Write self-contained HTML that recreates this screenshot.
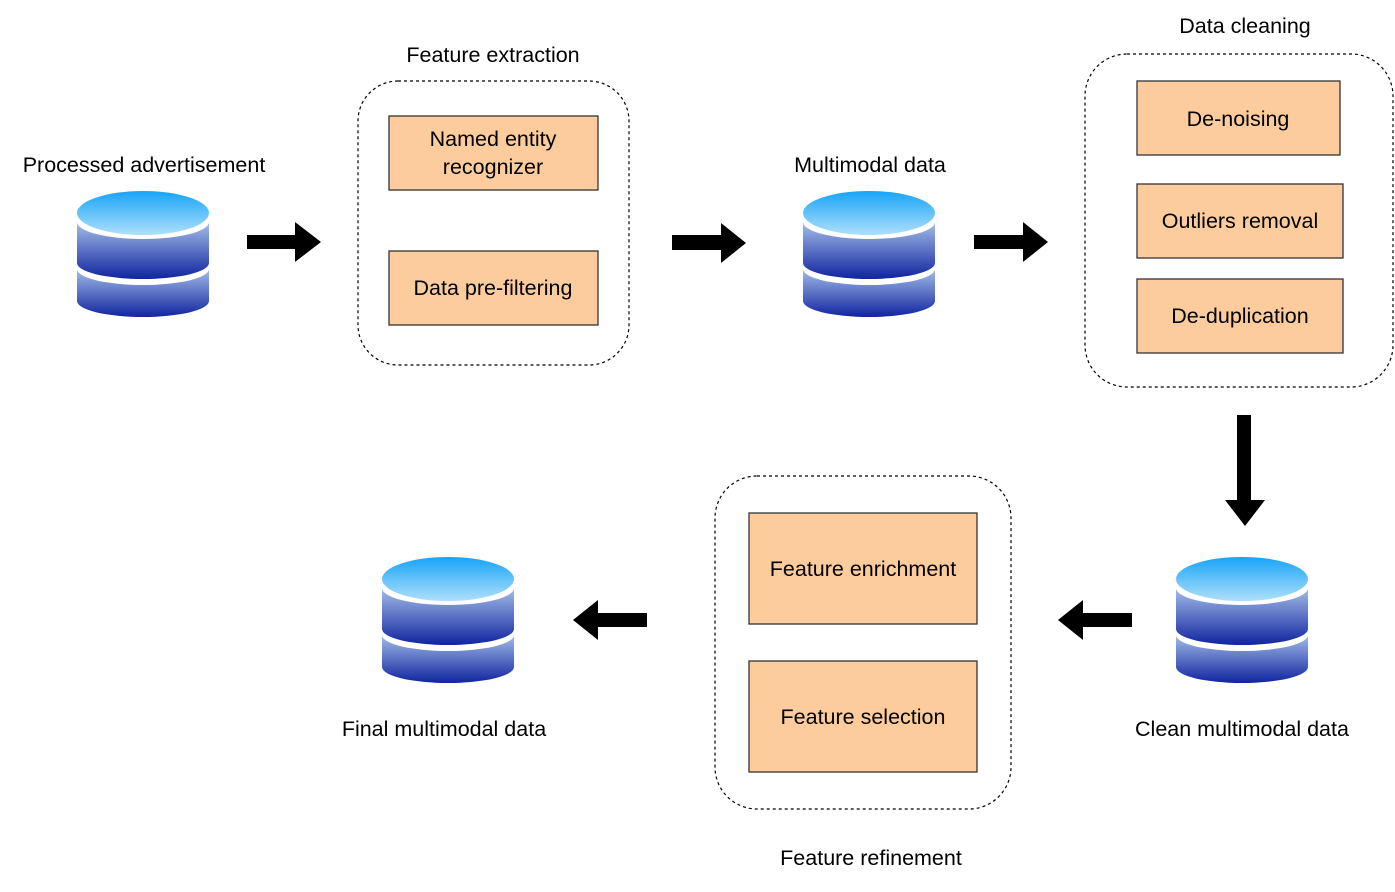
<!DOCTYPE html>
<html><head><meta charset="utf-8"><style>
body{margin:0;background:#fff}
svg text{font-family:"Liberation Sans",Arial,sans-serif;font-size:21.5px;fill:#000}
</style></head><body>
<svg width="1395" height="887" viewBox="0 0 1395 887" xmlns="http://www.w3.org/2000/svg">
<defs>
<linearGradient id="gt" x1="0" y1="0" x2="0" y2="1"><stop offset="0" stop-color="#18a4f8"/><stop offset="1" stop-color="#aee0fa"/></linearGradient>
<linearGradient id="gb" x1="0" y1="0" x2="0" y2="1"><stop offset="0" stop-color="#a4bde8"/><stop offset="1" stop-color="#1024a0"/></linearGradient>
<g id="db">
<ellipse cx="66" cy="22" rx="66" ry="22" fill="url(#gt)"/>
<path d="M0,31 A66,17 0 0 0 132,31 V72 A66,16 0 0 1 0,72Z" fill="url(#gb)"/>
<path d="M0,78 A66,16 0 0 0 132,78 V110 A66,16 0 0 1 0,110Z" fill="url(#gb)"/>
</g>
</defs>
<use href="#db" x="77" y="191"/>
<use href="#db" x="803" y="191"/>
<use href="#db" x="1176" y="557"/>
<use href="#db" x="382" y="557"/>

<g fill="#000">
<polygon points="247,235 295,235 295,222 321,242 295,262 295,249 247,249"/>
<polygon points="672,235 721,235 721,223 746,243 721,263 721,250 672,250"/>
<polygon points="974,235 1023,235 1023,222 1048,242 1023,262 1023,249 974,249"/>
<polygon points="1237,415 1251,415 1251,500 1265,500 1245,526 1225,500 1237,500"/>
<polygon points="1132,613 1083,613 1083,600 1058,620 1083,640 1083,627 1132,627"/>
<polygon points="647,613 598,613 598,600 573,620 598,640 598,627 647,627"/>
</g>

<g fill="none" stroke="#000" stroke-width="1.2" stroke-dasharray="3,3">
<rect x="358" y="81" width="271" height="284" rx="40"/>
<rect x="1085" y="54" width="308" height="333" rx="42"/>
<rect x="715" y="476" width="296" height="333" rx="42"/>
</g>

<g fill="#fdcc9c" stroke="#333" stroke-width="1.3">
<rect x="389" y="116" width="209" height="74"/>
<rect x="389" y="251" width="209" height="74"/>
<rect x="1137" y="81" width="203" height="74"/>
<rect x="1137" y="184" width="206" height="74"/>
<rect x="1137" y="279" width="206" height="74"/>
<rect x="749" y="513" width="228" height="111"/>
<rect x="749" y="661" width="228" height="111"/>
</g>

<g text-anchor="middle">
<text x="493" y="146">Named entity</text>
<text x="493" y="174">recognizer</text>
<text x="493" y="295">Data pre-filtering</text>
<text x="1238" y="126">De-noising</text>
<text x="1240" y="228">Outliers removal</text>
<text x="1240" y="323">De-duplication</text>
<text x="863" y="576">Feature enrichment</text>
<text x="863" y="724">Feature selection</text>
<text x="144" y="172">Processed advertisement</text>
<text x="493" y="62">Feature extraction</text>
<text x="870" y="172">Multimodal data</text>
<text x="1245" y="33">Data cleaning</text>
<text x="1242" y="736">Clean multimodal data</text>
<text x="444" y="736">Final multimodal data</text>
<text x="871" y="865">Feature refinement</text>
</g>
</svg>
</body></html>
